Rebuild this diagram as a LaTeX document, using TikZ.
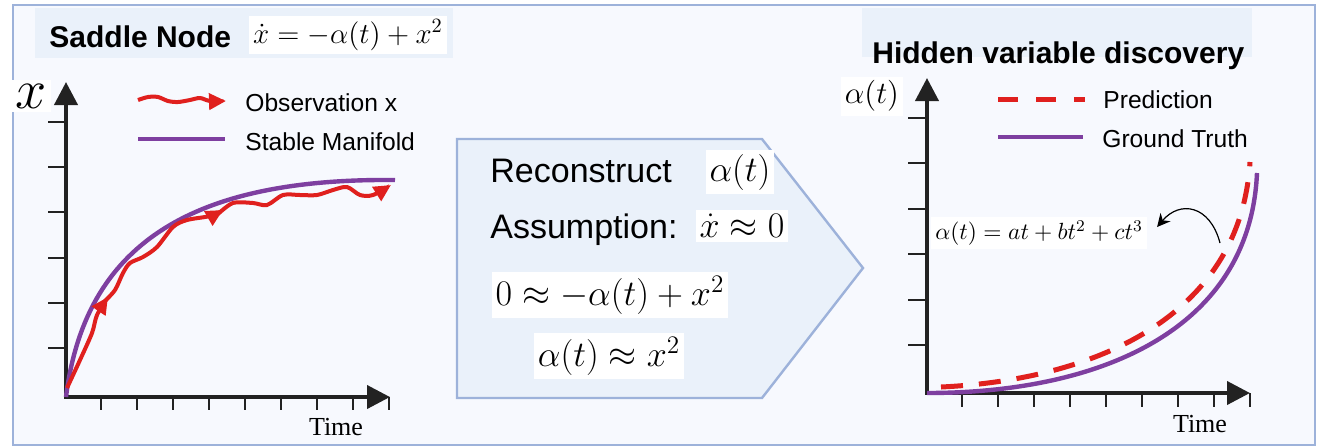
\documentclass[tikz,border=0pt]{standalone}
\usepackage{fix-cm}
\usepackage{fontspec}
\setsansfont{Liberation Sans}
\newfontfamily\timefont{Liberation Serif}
\usepackage{xcolor}
\usepackage{tikz}
\usetikzlibrary{arrows.meta, positioning}

\definecolor{frameblue}{HTML}{9DB2DA}
\definecolor{panelbg}{HTML}{F7F9FE}
\definecolor{titlebg}{HTML}{EAF1FA}
\definecolor{obsred}{HTML}{E0201E}
\definecolor{manpurple}{HTML}{7E3FA0}
\definecolor{axisgray}{HTML}{222222}

\begin{document}
\begin{tikzpicture}[
  x=0.5pt, y=-0.5pt,
  axis/.style={line width=2pt, axisgray, line join=miter, {Triangle[length=11.5pt, width=11.5pt]}-{Triangle[length=11.5pt, width=11.5pt]}},
  axtick/.style={line width=0.8pt, axisgray},
  obs/.style={line width=2pt, obsred, -{Triangle[length=8.5pt, width=8pt]}},
  manifold/.style={line width=2.2pt, manpurple},
  pred/.style={line width=2.5pt, obsred, dash pattern=on 11pt off 8pt},
  mathbox/.style={fill=white, inner sep=2pt},
  legend/.style={font=\sffamily\fontsize{12.3}{14}\selectfont, anchor=base west, inner sep=0pt},
  heading/.style={font=\sffamily\bfseries\fontsize{15}{18}\selectfont, anchor=base west, inner sep=0pt},
  midtext/.style={font=\sffamily\fontsize{17}{20}\selectfont, anchor=base west, inner sep=0pt},
  bigmath/.style={mathbox, font=\fontsize{18}{20}\selectfont},
  timelabel/.style={font=\timefont\fontsize{13}{15}\selectfont, inner sep=0pt},
  curvearrow/.style={-{Stealth[length=6.5pt, width=6.5pt]}, line width=0.6pt}
]
\useasboundingbox (0,0) rectangle (1319,447);
\draw[frameblue, line width=1pt, fill=panelbg] (13,5) rectangle (1315,445);

% titles
\fill[titlebg] (35,8) rectangle (453,58);
\fill[titlebg] (862,8) rectangle (1252,57);
\node[heading] (saddle) at (49,47) {Saddle Node};
\node[mathbox, font=\fontsize{14.5}{16}\selectfont] (saddleeq) at (348,35) {$\dot{x} = -\alpha(t) + x^2$};
\node[heading] (hidden) at (872,63) {Hidden variable discovery};

% left chart
\coordinate (oL) at (66,397);
\coordinate (yL) at (66,82);
\coordinate (xL) at (390,397);
\foreach \y in {122,167,212,258,303,348}
  \draw[axtick] (48,\y) -- (64,\y);
\foreach \x in {101,137,...,389}
  \draw[axtick] (\x,397) -- (\x,410);
\draw[axis] (yL) -- (oL) -- (xL);
\node[mathbox, font=\fontsize{28}{30}\selectfont] (xlab) at (31,96) {$x$};
\node[timelabel] (timeL) at (336,427) {Time};

\draw[manifold] (oL) .. controls (85,245) and (190,178) .. (395,180);
\draw[obs] plot[smooth] coordinates {(67,388) (80,360) (92,333) (97,315) (108,297)};
\draw[obs] plot[smooth] coordinates {(104,302) (115,290) (123,273) (130,263) (143,257) (157,247) (173,227) (187,220) (210,216) (223,210)};
\draw[obs] plot[smooth] coordinates {(218,214) (233,203) (253,203) (267,205) (283,195) (300,195) (317,195) (333,190) (347,187) (360,195) (373,195) (391,185)};

\draw[obs] plot[smooth] coordinates {(138,100) (148,97) (158,97) (168,101) (178,102) (190,100) (200,98) (210,101) (226,101)};
\draw[manifold] (138,139) -- (225,139);
\node[legend] (obsleg) at (245,111) {Observation x};
\node[legend] (manleg) at (245,150) {Stable Manifold};

% middle arrow box
\draw[frameblue, line width=1.2pt, fill=titlebg] (457,139) -- (762,139) -- (863,268) -- (762,398) -- (457,398) -- cycle;
\node[midtext] (recon) at (490,182) {Reconstruct};
\node[bigmath] (alphat) at (740,172) {$\alpha(t)$};
\node[midtext] (assume) at (490,238) {Assumption:};
\node[bigmath] (xdot) at (742,226) {$\dot{x} \approx 0$};
\node[bigmath] (zero) at (610,295) {$0 \approx -\alpha(t) + x^2$};
\node[bigmath] (approx) at (609,356) {$\alpha(t) \approx x^2$};

% right chart
\coordinate (oR) at (927,393);
\coordinate (yR) at (927,78);
\coordinate (xR) at (1250,393);
\foreach \y in {118,163,209,254,300,345}
  \draw[axtick] (908,\y) -- (925,\y);
\foreach \x in {962,998,...,1250}
  \draw[axtick] (\x,393) -- (\x,407);
\draw[axis] (yR) -- (oR) -- (xR);
\node[mathbox, font=\fontsize{15.5}{17}\selectfont] (alab) at (872,96) {$\alpha(t)$};
\node[timelabel] (timeR) at (1200,424) {Time};

\draw[manifold] (oR) .. controls (1100,393) and (1250,330) .. (1257,173);
\draw[pred] (941,387) .. controls (1090,380) and (1240,320) .. (1250,162);

\draw[pred, dash pattern=on 10pt off 9pt] (998,99) -- (1085,99);
\draw[manifold] (998,137) -- (1083,137);
\node[legend] (predleg) at (1103,108) {Prediction};
\node[legend] (gtleg) at (1102,147) {Ground Truth};

\node[mathbox, font=\fontsize{11.7}{13}\selectfont] (poly) at (1039,233) {$\alpha(t) = at + bt^2 + ct^3$};
\coordinate (hook) at (1220,243);
\draw[curvearrow] (hook) .. controls (1210,205) and (1180,200) .. ([xshift=5pt, yshift=3pt]poly.east);
\end{tikzpicture}
\end{document}
